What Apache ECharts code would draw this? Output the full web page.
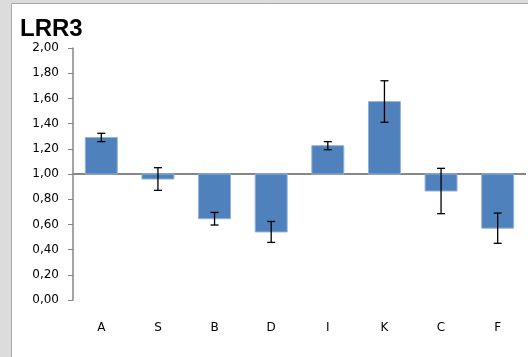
<!DOCTYPE html>
<html>
<head>
<meta charset="utf-8">
<script src="https://cdn.jsdelivr.net/npm/echarts@6/dist/echarts.min.js"></script>
<style>
html,body{margin:0;padding:0;background:#dcdcdc;}
#c{width:528px;height:357px;}
</style>
</head>
<body>
<div id="c"></div>
<script>
const categories = ['A','S','B','D','I','K','C','F'];
const values = [1.29, 0.96, 0.645, 0.54, 1.225, 1.575, 0.865, 0.57];
const errors = [0.033, 0.09, 0.05, 0.083, 0.032, 0.165, 0.18, 0.12];
const baseline = 1.0;
const yTicks = [0, 0.2, 0.4, 0.6, 0.8, 1.0, 1.2, 1.4, 1.6, 1.8, 2.0];

const chart = echarts.init(document.getElementById('c'), null, {renderer:'canvas'});
const data = categories.map((c,i)=>[i, values[i], errors[i]]);

chart.setOption({
  animation:false,
  backgroundColor:'transparent',
  graphic:[
    {type:'rect', z:-10, shape:{x:11.5,y:3.5,width:600,height:400}, style:{fill:'#ffffff', stroke:'#a8a8a8', lineWidth:1}}
  ],
  title:{text:'LRR3', left:15, top:12, textStyle:{fontFamily:'Liberation Sans', fontWeight:'bold', fontSize:24, color:'#000'}},
  grid:{left:73, top:48, width:453, height:252},
  xAxis:{type:'category', data:categories,
    axisLine:{show:false}, axisTick:{show:false},
    axisLabel:{margin:22, fontFamily:'DejaVu Sans', fontSize:12, color:'#000'}},
  yAxis:{type:'value', min:yTicks[0], max:yTicks[yTicks.length-1], interval:0.2,
    splitLine:{show:false},
    axisLine:{show:true, lineStyle:{color:'#868686', width:1.5}},
    axisTick:{show:true, inside:false, length:5, lineStyle:{color:'#868686', width:1}},
    axisLabel:{margin:14, fontFamily:'DejaVu Sans', fontSize:12, color:'#000',
      formatter:v=>v.toFixed(2).replace('.',',')}},
  series:[{
    type:'custom',
    data:data,
    renderItem:function(params, api){
      const i = api.value(0), v = api.value(1), e = api.value(2);
      const pB = api.coord([i, baseline]);
      const pV = api.coord([i, v]);
      const band = api.size([1,0])[0];
      const w = band*0.565;
      const top = Math.min(pB[1], pV[1]);
      const h = Math.abs(pB[1]-pV[1]);
      const pHi = api.coord([i, v+e]);
      const pLo = api.coord([i, v-e]);
      const cap = 4;
      const x = pV[0];
      return {type:'group', children:[
        {type:'rect', shape:{x:x-w/2, y:top, width:w, height:h},
          style:{fill:'#4f81bd', stroke:'#95b3d7', lineWidth:1}},
        {type:'line', shape:{x1:x,y1:pHi[1],x2:x,y2:pLo[1]}, style:{stroke:'#000', lineWidth:1.3}, z2:10},
        {type:'line', shape:{x1:x-cap,y1:pHi[1],x2:x+cap,y2:pHi[1]}, style:{stroke:'#000', lineWidth:1.3}, z2:10},
        {type:'line', shape:{x1:x-cap,y1:pLo[1],x2:x+cap,y2:pLo[1]}, style:{stroke:'#000', lineWidth:1.3}, z2:10}
      ]};
    },
    markLine:{silent:true, symbol:'none', label:{show:false},
      lineStyle:{color:'#868686', width:2, type:'solid'},
      data:[{yAxis:baseline}], z:1}
  }]
});
</script>
</body>
</html>
